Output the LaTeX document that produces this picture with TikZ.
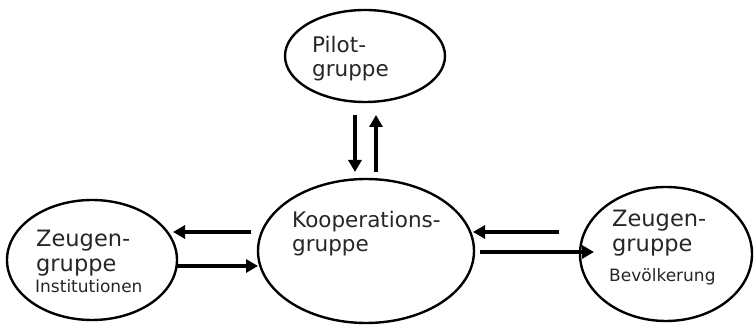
\documentclass[tikz,border=0pt]{standalone}
\usepackage{fontspec}
\setmainfont{DejaVu Sans}
\usetikzlibrary{shapes.geometric,arrows.meta}
\begin{document}
\begin{tikzpicture}[x=1pt,y=1pt,
  blob/.style={draw,ellipse,line width=2.4pt,inner sep=0pt},
  flow/.style={line width=3.5pt,-{Triangle[length=12pt,width=13pt]}},
  lbl/.style={anchor=base west,inner sep=0pt,text=black!85},
  big/.style={font=\fontsize{21.5}{24}\selectfont},
  bigger/.style={font=\fontsize{22.5}{26}\selectfont},
  small/.style={font=\fontsize{17}{20}\selectfont}]
\useasboundingbox (0,0) rectangle (754,326);
% ellipses (y = 326 - pixel y)
\node[blob,minimum width=160pt,minimum height=92pt] (pilot) at (365,270) {};
\node[blob,minimum width=216pt,minimum height=144pt] (koop) at (366,75) {};
\node[blob,minimum width=170pt,minimum height=120pt] (zinst) at (92,66) {};
\node[blob,minimum width=172pt,minimum height=134pt] (zbev) at (666,72) {};
% texts
\node[lbl,big] (tp1) at (312,273) {Pilot-};
\node[lbl,big] (tp2) at (312,249) {gruppe};
\node[lbl,big] (tk1) at (292,98) {Kooperations-};
\node[lbl,big] (tk2) at (292,74) {gruppe};
\node[lbl,bigger] (ti1) at (36,79) {Zeugen-};
\node[lbl,bigger] (ti2) at (36,54) {gruppe};
\node[lbl,small] (ti3) at (35,33) {Institutionen};
\node[lbl,bigger] (tb1) at (612,99) {Zeugen-};
\node[lbl,bigger] (tb2) at (612,74) {gruppe};
\node[lbl,small] (tb3) at (609,44) {Bevölkerung};
% arrow end points
\coordinate (pd1) at (355,211); \coordinate (pd2) at (355,154);
\coordinate (pu1) at (376,154); \coordinate (pu2) at (376,211);
\coordinate (li1) at (251,94); \coordinate (li2) at (173,94);
\coordinate (lo1) at (177,60); \coordinate (lo2) at (258,60);
\coordinate (ri1) at (559,94); \coordinate (ri2) at (473,94);
\coordinate (ro1) at (480,74); \coordinate (ro2) at (594,74);
\draw[flow] (pd1) -- (pd2);
\draw[flow] (pu1) -- (pu2);
\draw[flow] (li1) -- (li2);
\draw[flow] (lo1) -- (lo2);
\draw[flow] (ri1) -- (ri2);
\draw[flow] (ro1) -- (ro2);
\end{tikzpicture}
\end{document}
